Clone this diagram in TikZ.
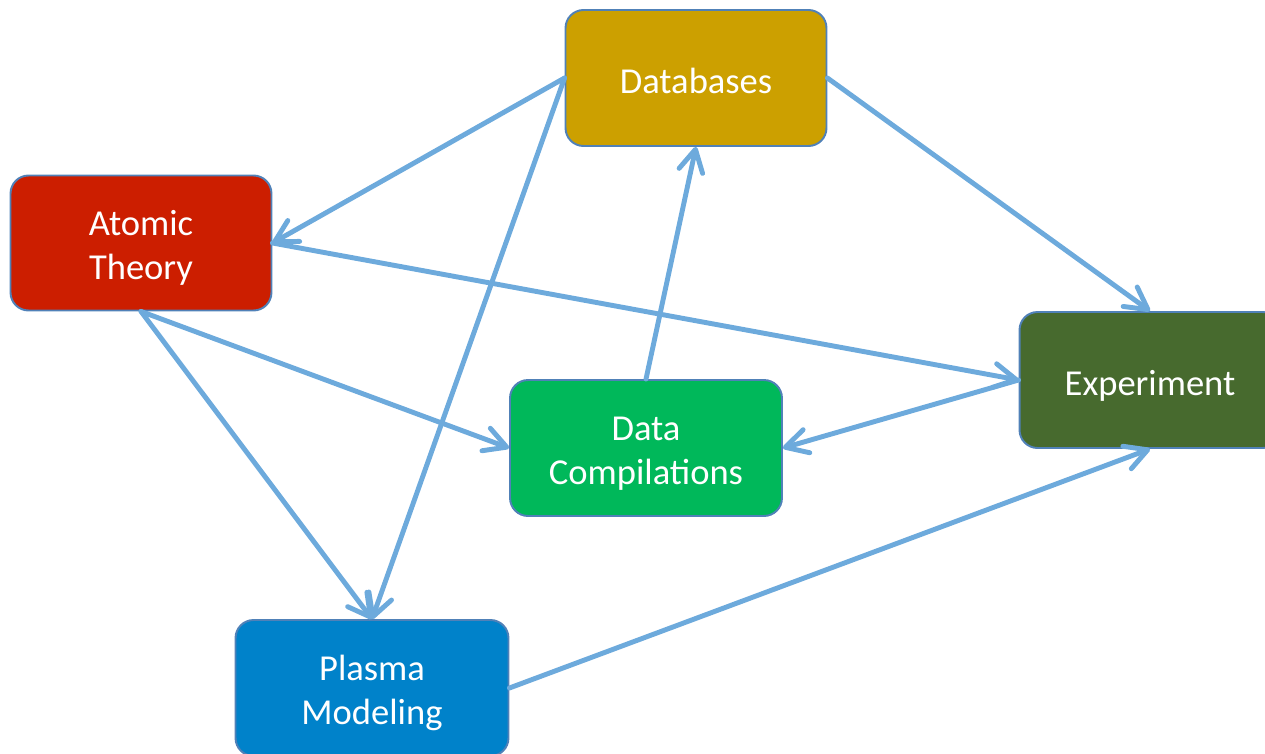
\documentclass[tikz,border=0pt]{standalone}
\usepackage{fontspec}
\setmainfont{Carlito}
\usetikzlibrary{arrows.meta}

\definecolor{dbgold}{HTML}{CCA000}
\definecolor{atomred}{HTML}{CC1E00}
\definecolor{expgreen}{HTML}{476A2E}
\definecolor{compgreen}{HTML}{00B85A}
\definecolor{plasmablue}{HTML}{0082CA}
\definecolor{boxedge}{HTML}{5081B8}
\definecolor{linkblue}{HTML}{6DAADC}

\tikzset{
	box/.style={draw=boxedge, line width=1.1pt, rounded corners=0.36cm, text=white, align=center,
		minimum width=5.22cm, minimum height=2.72cm, font=\fontsize{20.8}{25}\selectfont,
		text height=22.4pt, text depth=5pt},
	twoline/.style={text height=46.4pt},
	link/.style={draw=linkblue, line width=2.8pt, line cap=round,
		-{Straight Barb[length=4.4mm, width=4.8mm, line cap=round, line join=round]}},
}

\begin{document}
\begin{tikzpicture}[x=0.02cm, y=-0.02cm]
		\clip (0,0) rectangle (1265,754);
		
		\node [box, fill=dbgold] (db) at (696,78) {Databases};
		\node [box, twoline, fill=atomred, minimum height=2.7cm] (atom) at (141,243) {Atomic\\Theory};
		\node [box, fill=expgreen] (exp) at (1150,380) {Experiment};
		\node [box, twoline, fill=compgreen, minimum width=5.44cm] (comp) at (646,448) {Data\\Compilations};
		\node [box, twoline, fill=plasmablue, minimum width=5.46cm] (plasma) at (372,688) {Plasma\\Modeling};
		
		\draw [link] (db.west) -- (atom.east);
		\draw [link] (db.west) -- (plasma.north);
		\draw [link] (db.east) -- (exp.north);
		\draw [link] (comp.north) -- (db.south);
		\draw [link] (atom.east) -- (exp.west);
		\draw [link] (atom.south) -- (comp.west);
		\draw [link] (atom.south) -- (plasma.north);
		\draw [link] (exp.west) -- (comp.east);
		\draw [link] (plasma.east) -- (exp.south);
		
\end{tikzpicture}
\end{document}
